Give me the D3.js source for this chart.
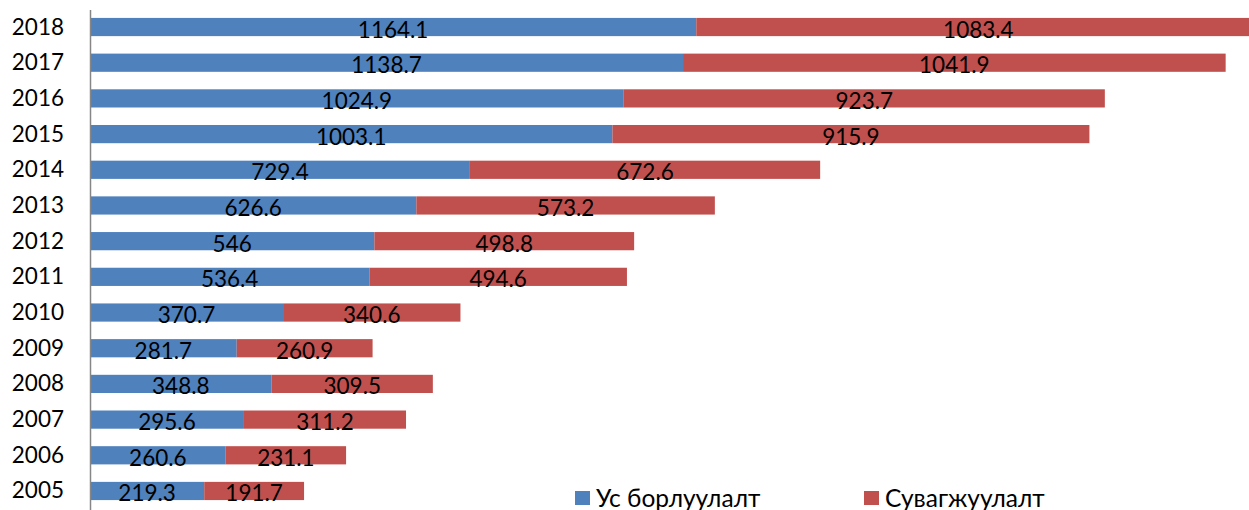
<!DOCTYPE html>
<html>
<head>
<meta charset="utf-8">
<script src="https://cdn.jsdelivr.net/npm/d3@7"></script>
<style>
  body { margin: 0; background: #fff; }
  text { font-family: Lato, "Open Sans", sans-serif; }
</style>
</head>
<body>
<div id="chart"></div>
<script>
// data
var years = ["2018", "2017", "2016", "2015", "2014", "2013", "2012", "2011", "2010", "2009", "2008", "2007", "2006", "2005"]
var sales = [1164.1, 1138.7, 1024.9, 1003.1, 729.4, 626.6, 546, 536.4, 370.7, 281.7, 348.8, 295.6, 260.6, 219.3]
var sewer = [1083.4, 1041.9, 923.7, 915.9, 672.6, 573.2, 498.8, 494.6, 340.6, 260.9, 309.5, 311.2, 231.1, 191.7]
var seriesNames = ["Ус борлуулалт", "Сувагжуулалт"]
var colors = ["#4F81BD", "#C0504D"]

var width = 1249, height = 510

var svg = d3.select("#chart").append("svg")
  .attr("width", width)
  .attr("height", height)

var x = d3.scaleLinear()
  .domain([0, 2200])
  .range([90, 90 + 2200 * 0.5208])

var y = d3.scaleBand()
  .domain(years)
  .range([9, 509])
  .paddingInner(0.49)
  .paddingOuter(0.25)

var rows = years.map(function(yr, i) {
  return { year: yr, a: sales[i], b: sewer[i] }
})

var stack = d3.stack().keys(["a", "b"])
var layers = stack(rows)

svg.selectAll("g.layer")
  .data(layers)
  .enter()
  .append("g")
    .attr("class", "layer")
    .attr("fill", function(d, i) { return colors[i] })
  .selectAll("rect")
  .data(function(d) { return d })
  .enter()
  .append("rect")
    .attr("x", function(d) { return x(d[0]) })
    .attr("y", function(d) { return y(d.data.year) })
    .attr("width", function(d) { return x(d[1]) - x(d[0]) })
    .attr("height", y.bandwidth())

// value labels in the middle of each piece
svg.selectAll("g.labels")
  .data(layers)
  .enter()
  .append("g")
  .selectAll("text")
  .data(function(d) { return d })
  .enter()
  .append("text")
    .attr("x", function(d) { return (x(d[0]) + x(d[1])) / 2 })
    .attr("y", function(d) { return y(d.data.year) + y.bandwidth() / 2 + 10.5 })
    .attr("text-anchor", "middle")
    .attr("font-size", 22.5)
    .attr("fill", "#000")
    .text(function(d) { return +(d[1] - d[0]).toFixed(1) })

// year axis
svg.append("line")
  .attr("x1", 90.5).attr("x2", 90.5)
  .attr("y1", 10).attr("y2", 510)
  .attr("stroke", "#868686")
  .attr("stroke-width", 1.5)

svg.selectAll("text.year")
  .data(years)
  .enter()
  .append("text")
    .attr("class", "year")
    .attr("x", 64)
    .attr("y", function(d) { return y(d) + y.bandwidth() / 2 + 7.5 })
    .attr("text-anchor", "end")
    .attr("font-size", 22.5)
    .text(function(d) { return d })

// legend
var legendX = [575, 864]
var legend = svg.selectAll("g.legend")
  .data(seriesNames)
  .enter()
  .append("g")
    .attr("transform", function(d, i) { return "translate(" + legendX[i] + ",491)" })
legend.append("rect")
  .attr("width", 15).attr("height", 14)
  .attr("fill", function(d, i) { return colors[i] })
legend.append("text")
  .attr("x", 21).attr("y", 15.5)
  .attr("font-size", 24.5)
  .text(function(d) { return d })
</script>
</body>
</html>
